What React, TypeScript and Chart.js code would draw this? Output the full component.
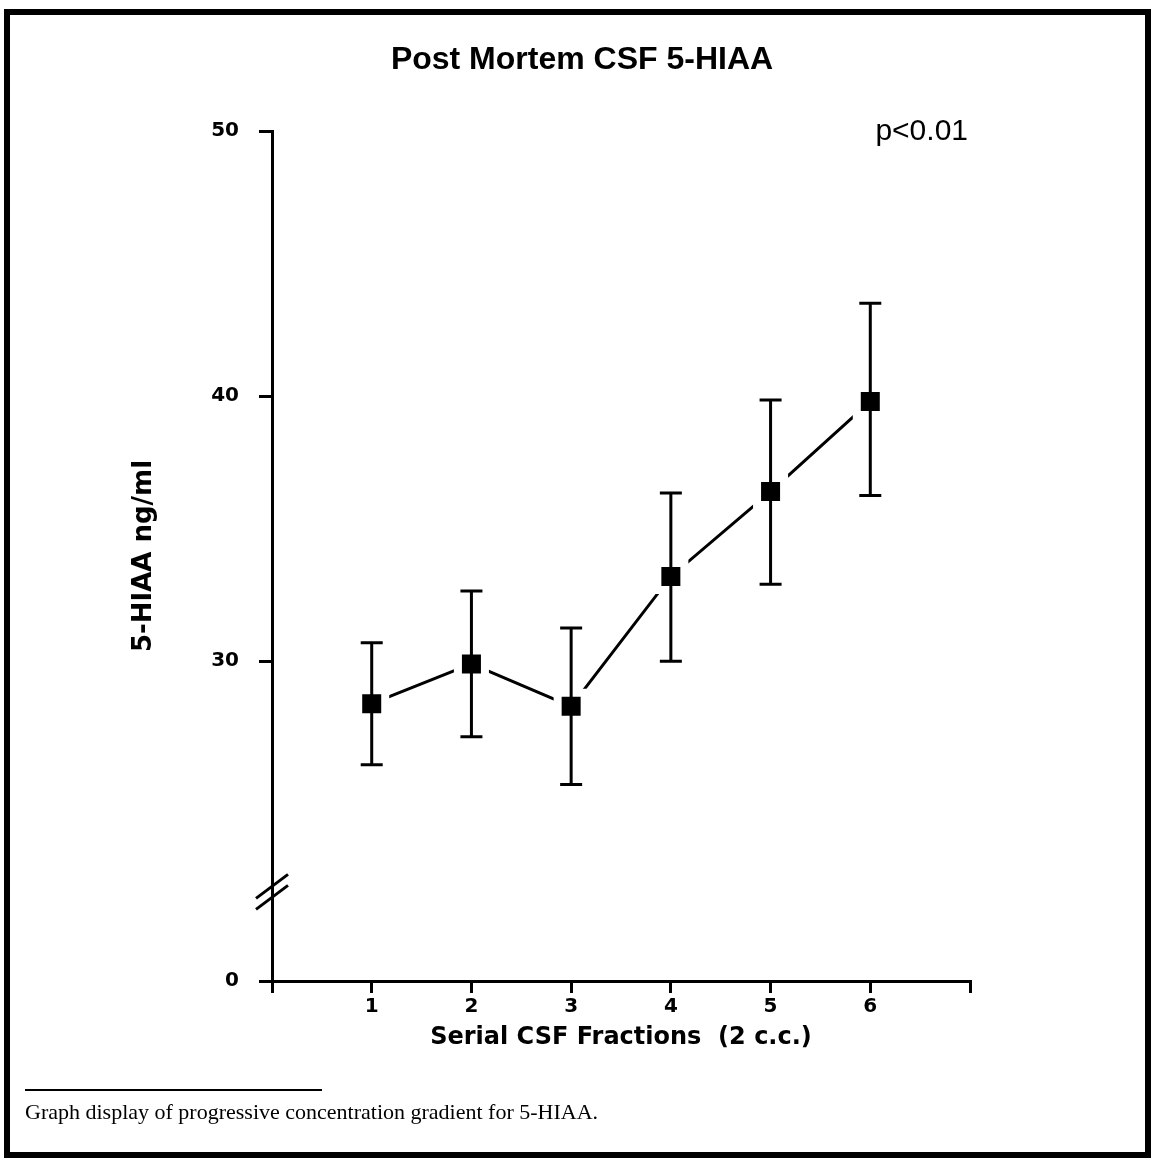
import React, { useEffect, useRef } from 'react';
import { Chart, registerables } from 'chart.js';

Chart.register(...registerables);

const fractions = [1, 2, 3, 4, 5, 6];
const meanValues = [28.4, 29.9, 28.3, 33.2, 36.4, 39.8];
const upperValues = [30.7, 32.65, 31.25, 36.35, 39.85, 43.5];
const lowerValues = [26.1, 27.15, 25.35, 30.0, 32.9, 36.25];
const yTickValues = [30, 40, 50];
const yAxisBase = 17.94; // broken axis: this level is labelled "0"
const yBreakValue = 21.3;
const xTickValues = [0, 1, 2, 3, 4, 5, 6, 7];
const xTickLabels = ['', '1', '2', '3', '4', '5', '6', ''];

const titleText = 'Post Mortem CSF 5-HIAA';
const pText = 'p<0.01';
const yTitle = '5-HIAA ng/ml';
const xTitle = 'Serial CSF Fractions  (2 c.c.)';
const captionText = 'Graph display of progressive concentration gradient for 5-HIAA.';

const AXIS_FONT = '"DejaVu Sans", sans-serif';

const annotationsPlugin = {
  id: 'annotations',
  afterDatasetsDraw(chart: any) {
    const { ctx, scales } = chart;
    const x = scales.x;
    const y = scales.y;
    ctx.save();
    ctx.strokeStyle = '#000';
    ctx.lineWidth = 3;
    fractions.forEach((f, i) => {
      const px = x.getPixelForValue(f);
      const top = y.getPixelForValue(upperValues[i]);
      const bot = y.getPixelForValue(lowerValues[i]);
      ctx.beginPath();
      ctx.moveTo(px, top);
      ctx.lineTo(px, bot);
      ctx.moveTo(px - 11, top);
      ctx.lineTo(px + 11, top);
      ctx.moveTo(px - 11, bot);
      ctx.lineTo(px + 11, bot);
      ctx.stroke();
    });
    ctx.restore();
  },
  afterDraw(chart: any) {
    const { ctx, scales, chartArea } = chart;
    const y = scales.y;
    ctx.save();
    // axis break marks
    const ax = chartArea.left;
    const cy = y.getPixelForValue(yBreakValue);
    ctx.strokeStyle = '#000';
    ctx.lineWidth = 3;
    [-5.5, 5.5].forEach((off) => {
      ctx.beginPath();
      ctx.moveTo(ax - 16, cy + off + 12);
      ctx.lineTo(ax + 16, cy + off - 12);
      ctx.stroke();
    });
    // title
    ctx.fillStyle = '#000';
    ctx.font = 'bold 32px "Liberation Sans", Arial, sans-serif';
    ctx.textAlign = 'center';
    ctx.textBaseline = 'middle';
    ctx.fillText(titleText, 582, 60);
    // p value
    ctx.font = '30px "Liberation Sans", Arial, sans-serif';
    ctx.textAlign = 'right';
    ctx.fillText(pText, 968, 132);
    // caption rule and text
    ctx.lineWidth = 2;
    ctx.beginPath();
    ctx.moveTo(25, 1090);
    ctx.lineTo(322, 1090);
    ctx.stroke();
    ctx.font = '22px "Liberation Serif", "Times New Roman", serif';
    ctx.textAlign = 'left';
    ctx.textBaseline = 'alphabetic';
    ctx.fillText(captionText, 25, 1119);
    ctx.restore();
  },
};

export default function App() {
  const ref = useRef<HTMLCanvasElement>(null);

  useEffect(() => {
    if (!ref.current) return;
    const chart = new Chart(ref.current, {
      type: 'line',
      data: {
        datasets: [
          {
            data: fractions.map((f, i) => ({ x: f, y: meanValues[i] })),
            borderColor: '#000',
            borderWidth: 3,
            tension: 0,
            pointStyle: 'rect',
            pointRadius: 19.1,
            pointBackgroundColor: '#000',
            pointBorderColor: '#fff',
            pointBorderWidth: 8,
            clip: false as any,
          },
        ],
      },
      options: {
        animation: false,
        responsive: false,
        events: [],
        layout: { padding: { top: 131, left: 110, right: 183, bottom: 99 } },
        plugins: {
          legend: { display: false },
          tooltip: { enabled: false },
          title: { display: false },
        },
        scales: {
          x: {
            type: 'linear',
            min: 0,
            max: 7,
            afterBuildTicks: (s: any) => {
              s.ticks = xTickValues.map((v) => ({ value: v }));
            },
            afterFit: (s: any) => {
              s.height = 80;
            },
            ticks: {
              callback: (_v: any, i: number) => xTickLabels[i],
              font: { family: AXIS_FONT, size: 20, weight: 'bold' },
              color: '#000',
              padding: 2,
              maxRotation: 0,
              autoSkip: false,
            },
            grid: {
              display: true,
              drawOnChartArea: false,
              drawTicks: true,
              tickLength: 12,
              lineWidth: 3,
              color: '#000',
            },
            border: { display: true, color: '#000', width: 3 },
            title: {
              display: true,
              text: xTitle,
              color: '#000',
              font: { family: AXIS_FONT, size: 24, weight: 'bold' },
              padding: { top: 0, bottom: 8.6 },
            },
          },
          y: {
            type: 'linear',
            min: yAxisBase,
            max: 50,
            afterBuildTicks: (s: any) => {
              s.ticks = [yAxisBase, ...yTickValues].map((v) => ({ value: v }));
            },
            afterFit: (s: any) => {
              s.width = 162;
            },
            ticks: {
              callback: (v: any) => (v === yAxisBase ? '0' : String(v)),
              font: { family: AXIS_FONT, size: 20, weight: 'bold' },
              color: '#000',
              padding: 20,
              autoSkip: false,
            },
            grid: {
              display: true,
              drawOnChartArea: false,
              drawTicks: true,
              tickLength: 13,
              lineWidth: 3,
              color: '#000',
            },
            border: { display: true, color: '#000', width: 3 },
            title: {
              display: true,
              text: yTitle,
              color: '#000',
              font: { family: AXIS_FONT, size: 26, weight: 'bold' },
              padding: { top: 18.4, bottom: 0 },
            },
          },
        },
      },
      plugins: [annotationsPlugin],
    });
    return () => chart.destroy();
  }, []);

  return (
    <div
      style={{
        position: 'absolute',
        left: 0,
        top: 0,
        width: 1153,
        height: 1160,
        background: '#fff',
        overflow: 'hidden',
      }}
    >
      <canvas
        ref={ref}
        width={1153}
        height={1160}
        style={{ position: 'absolute', left: 0, top: 0, width: 1153, height: 1160 }}
      />
      <div
        style={{
          position: 'absolute',
          left: 4,
          top: 9,
          width: 1147,
          height: 1149,
          border: '6px solid #000',
          boxSizing: 'border-box',
          pointerEvents: 'none',
        }}
      />
    </div>
  );
}
